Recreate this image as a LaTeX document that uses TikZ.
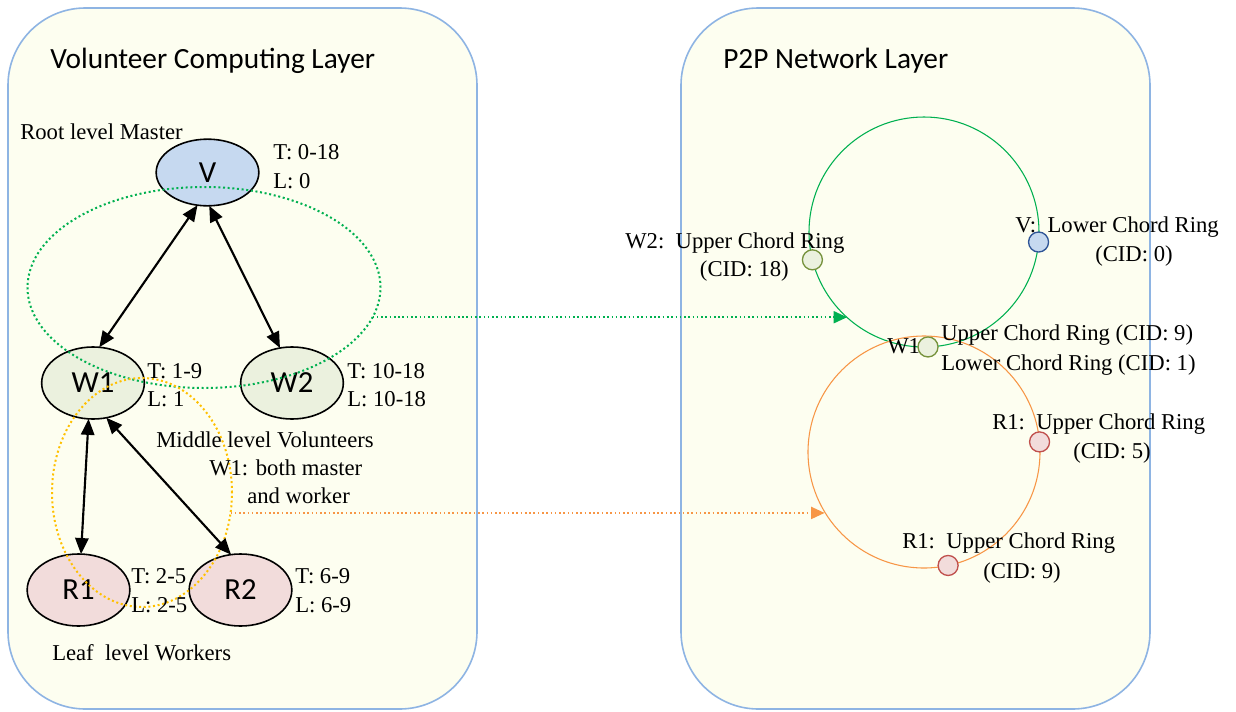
\documentclass[tikz,border=0pt]{standalone}
\usepackage{fontspec}
\setmainfont{Liberation Serif}
\newfontfamily\calibri{Carlito}
\usetikzlibrary{shapes.geometric,arrows.meta}
\definecolor{panelfill}{HTML}{FDFEF0}
\definecolor{panelline}{HTML}{8EB4E3}
\definecolor{vblue}{HTML}{C6D9F0}
\definecolor{wgreen}{HTML}{EBF1DE}
\definecolor{rpink}{HTML}{F2DCDB}
\definecolor{dgreen}{HTML}{00B050}
\definecolor{dyellow}{HTML}{FFC000}
\definecolor{dorange}{HTML}{F79646}
\definecolor{olivec}{HTML}{76923C}
\definecolor{dblue}{HTML}{2F5597}
\definecolor{dred}{HTML}{C0504D}
\begin{document}
\begin{tikzpicture}[x=0.75pt,y=-0.75pt,
  panel/.style={draw=panelline,fill=panelfill,line width=1.2pt,rounded corners=58pt},
  title/.style={inner sep=0,anchor=base west,font=\calibri\fontsize{22}{26}\selectfont},
  tnode/.style={ellipse,draw=black,line width=1.2pt,inner sep=0,outer sep=0,
    minimum width=77pt,minimum height=54pt,font=\calibri\fontsize{23}{26}\selectfont},
  lbl/.style={inner sep=0,anchor=base west,font=\fontsize{17}{20}\selectfont},
  lble/.style={lbl,anchor=base east},
  barrow/.style={{Triangle[length=12pt,width=10pt]}-{Triangle[length=12pt,width=10pt]},line width=1.6pt},
  dotell/.style={ellipse,dotted,line width=1.5pt,inner sep=0,outer sep=0},
  ring/.style={circle,line width=0.8pt,inner sep=0,outer sep=0,minimum size=172.5pt},
  smallc/.style={circle,line width=1pt,inner sep=0,outer sep=0,minimum size=15pt},
  dotarrow/.style={dotted,line width=1.2pt,-{Triangle[length=10pt,width=9pt]}}
]
\useasboundingbox (0,0) rectangle (1236,711);
% panels
\draw[panel] (8,8) rectangle (477,709);
\draw[panel] (681,8) rectangle (1150,709);
\node[title] (t1) at (50,68) {Volunteer Computing Layer};
\node[title] (t2) at (723,68) {P2P Network Layer};

% tree nodes
\node[tnode,fill=vblue,minimum height=50pt] (V) at (207.5,172.5) {V};
\node[tnode,fill=wgreen] (W1) at (93,383) {W1};
\node[tnode,fill=wgreen] (W2) at (292,383) {W2};
\node[tnode,fill=rpink] (R1) at (78.5,590) {R1};
\node[tnode,fill=rpink] (R2) at (240.5,590) {R2};

% dotted groupings
\node[dotell,draw=dgreen,minimum width=264.75pt,minimum height=150.75pt] (gell) at (204,287.5) {};
\node[dotell,draw=dyellow,minimum width=135pt,minimum height=171.75pt] (yell) at (142,492.5) {};

% tree arrows
\draw[barrow] (V.-107) -- (W1.80);
\draw[barrow] (V.-87) -- (W2.109);
\draw[barrow] (W1.-97.5) -- (R1.86);
\draw[barrow] (W1.-69) -- (R2.105.4);

% tree labels
\node[lbl] (lroot) at (20,139) {Root level Master};
\node[lbl] (tv) at (273,159) {T: 0-18};
\node[lbl] (lv) at (273,188) {L: 0};
\node[lbl] (tw1) at (147,378) {T: 1-9};
\node[lbl] (lw1) at (147,406) {L: 1};
\node[lbl] (tw2) at (347,378) {T: 10-18};
\node[lbl] (lw2) at (347,406) {L: 10-18};
\node[lbl] (mid1) at (156,447) {Middle level Volunteers};
\node[lbl] (mid2) at (209,475) {W1: both master};
\node[lbl] (mid3) at (247,503) {and worker};
\node[lbl] (tr1) at (131,583) {T: 2-5};
\node[lbl] (lr1) at (131,612) {L: 2-5};
\node[lbl] (tr2) at (295,583) {T: 6-9};
\node[lbl] (lr2) at (295,612) {L: 6-9};
\node[lbl] (leaf) at (52,660) {Leaf\ \ level Workers};

% rings
\node[ring,draw=dgreen] (gring) at (924,232) {};
\node[ring,draw=dorange,minimum size=174pt] (oring) at (924,452) {};

\node[smallc,fill=wgreen,draw=olivec] (cw2) at (gring.194.4) {};
\node[smallc,fill=vblue,draw=dblue] (cv) at (gring.-5.4) {};
\node[smallc,fill=wgreen,draw=olivec] (cw1) at (gring.-88) {};
\node[smallc,fill=rpink,draw=dred] (cr1a) at (oring.5.5) {};
\node[smallc,fill=rpink,draw=dred] (cr1b) at (oring.-78.3) {};

% layer connectors
\draw[dotarrow,dgreen] (gell.-10.3) -- (gell.-10.3 -| gring.228.5);
\draw[dotarrow,dorange] (yell.-13) -- (yell.-13 -| oring.211.6);

% ring labels
\node[lbl] (lw2a) at (625,248) {W2:\ \ Upper Chord Ring};
\node[lble] (lw2b) at (789,276) {(CID: 18)};
\node[lbl] (lva) at (1015,232) {V:\ \ Lower Chord Ring};
\node[lbl] (lvb) at (1095,261) {(CID: 0)};
\node[lbl] (lw1n) at (887,353) {W1};
\node[lbl] (lw1a) at (941,340) {Upper Chord Ring (CID: 9)};
\node[lbl] (lw1b) at (941,370) {Lower Chord Ring (CID: 1)};
\node[lbl] (lr1a) at (992,429) {R1:\ \ Upper Chord Ring};
\node[lbl] (lr1b) at (1073,458) {(CID: 5)};
\node[lbl] (lr1c) at (902,548) {R1:\ \ Upper Chord Ring};
\node[lbl] (lr1d) at (983,578) {(CID: 9)};
\end{tikzpicture}
\end{document}
